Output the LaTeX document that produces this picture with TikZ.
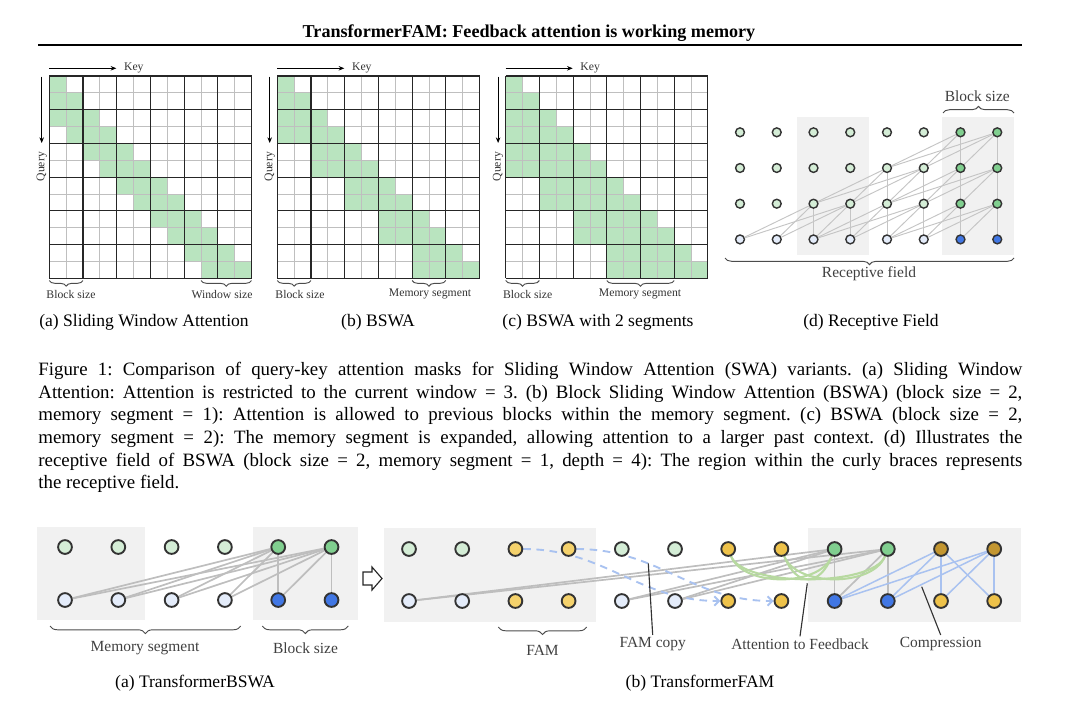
\documentclass[tikz,border=0pt]{standalone}
\usepackage{fontspec}
\setmainfont{Liberation Serif}
\usepackage{tikz}
\usetikzlibrary{positioning,decorations.pathreplacing,backgrounds,arrows.meta}
\frenchspacing
\definecolor{maskgreen}{HTML}{B9E4BF}
\definecolor{lgreen}{HTML}{D4EDD6}
\definecolor{mgreen}{HTML}{80CF8F}
\definecolor{lblue}{HTML}{E4ECFA}
\definecolor{dblue}{HTML}{4177E4}
\definecolor{famyellow}{HTML}{F5D26C}
\definecolor{famdeep}{HTML}{EEC24A}
\definecolor{famgold}{HTML}{C39630}
\definecolor{boxgray}{HTML}{F1F1F1}
\definecolor{edgegray}{HTML}{BEBEBE}
\definecolor{fbgreen}{HTML}{B7D9A0}
\definecolor{cmpblue}{HTML}{A9C2F0}
\def\cs{16.85}
\newcommand{\drawmask}[4]{
  % #1,#2: top left corner, #3: first green column of row \r, #4: name
  \begin{scope}[shift={(#1,#2)}]
    \foreach \r in {0,...,11} {
      \pgfmathtruncatemacro{\lo}{#3}
      \fill[maskgreen] (\lo*\cs, \r*\cs) rectangle ({(\r+1)*\cs}, {(\r+1)*\cs});
    }
    \foreach \i in {1,3,...,11} {
      \draw[black!25, line width=0.4pt] (\i*\cs, 0) -- (\i*\cs, 12*\cs);
      \draw[black!25, line width=0.4pt] (0, \i*\cs) -- (12*\cs, \i*\cs);
    }
    \foreach \i in {0,2,...,12} {
      \draw[black!85, line width=0.6pt] (\i*\cs, 0) -- (\i*\cs, 12*\cs);
      \draw[black!85, line width=0.6pt] (0, \i*\cs) -- (12*\cs, \i*\cs);
    }
    \draw[-{Stealth[length=3pt, width=2.4pt]}, line width=0.4pt] (0,-7.7) -- (67,-7.7);
    \node[gridlbl] (#4-key) at (84.5,-7.7) {Key};
    \draw[-{Stealth[length=3pt, width=2.4pt]}, line width=0.4pt] (-7.6,0.7) -- (-7.6,67);
    \node[gridlbl, rotate=90] (#4-query) at (-7.6,90.7) {Query};
  \end{scope}
}

\begin{document}
\begin{tikzpicture}[x=0.53pt, y=-0.53pt,
    tokdot/.style={circle, draw=black!80, line width=1pt, minimum size=7.3pt, inner sep=0pt},
    rfdot/.style={circle, draw=black!80, line width=0.75pt, minimum size=4.7pt, inner sep=0pt},
    memedge/.style={edgegray, line width=0.9pt},
    rfedge/.style={edgegray!90, line width=0.5pt},
    fbarc/.style={fbgreen, line width=1.1pt},
    cmpedge/.style={cmpblue, line width=0.8pt},
    famcopy/.style={cmpblue, line width=1pt, dash pattern=on 4pt off 3pt, -{Straight Barb[length=2.5pt, width=5pt]}},
    pointer/.style={black!80, line width=0.6pt},
    brc/.style={decorate, decoration={brace, amplitude=#1}, black!70, line width=0.5pt},
    brc/.default=3pt,
    brcdown/.style={decorate, decoration={brace, mirror, amplitude=#1}, black!70, line width=0.5pt},
    brcdown/.default=3pt,
    gridlbl/.style={font=\fontsize{6.2}{7}\selectfont, text=black!80, inner sep=1pt},
    rflbl/.style={font=\fontsize{8.2}{9}\selectfont, text=black!75, inner sep=1pt},
    sublbl/.style={font=\fontsize{9.3}{11}\selectfont, inner sep=1pt}]
  \useasboundingbox (0,0) rectangle (1080,703);

  % title
  \node[font=\bfseries\fontsize{9.6}{11}\selectfont] (title) at (529,33) {TransformerFAM: Feedback attention is working memory};
  \draw[line width=0.8pt] (38,45) -- (1022,45);

  % attention masks
  \drawmask{49.3}{76}{max(0,\r-2)}{swa}
  \drawmask{277.3}{76}{max(0,2*(floor(\r/2)-1))}{bswa}
  \drawmask{505.7}{76}{max(0,2*(floor(\r/2)-2))}{seg}

  \draw[brcdown] (49.3,280.5) -- (83,280.5);
  \node[gridlbl] (swa-blk) at (71,294.3) {Block size};
  \draw[brcdown] (201,280.5) -- (251.5,280.5);
  \node[gridlbl] (swa-win) at (222,294.3) {Window size};
  \draw[brcdown] (277.3,280.5) -- (311,280.5);
  \node[gridlbl] (bswa-blk) at (300,294.3) {Block size};
  \draw[brcdown] (412.1,280.5) -- (445.8,280.5);
  \node[gridlbl] (bswa-mem) at (430,294.3) {Memory segment};
  \draw[brcdown] (505.7,280.5) -- (539.4,280.5);
  \node[gridlbl] (seg-blk) at (527.7,294.3) {Block size};
  \draw[brcdown] (606.8,280.5) -- (674.2,280.5);
  \node[gridlbl] (seg-mem) at (640,294.3) {Memory segment};

  % receptive field
  \begin{scope}[on background layer]
    \fill[boxgray] (796.7,116.7) rectangle (869,255);
    \fill[boxgray] (941.7,116.7) rectangle (1014.3,255);
    \fill[boxgray] (37.3,527.3) rectangle (145,620);
    \fill[boxgray] (252.7,527.3) rectangle (358.3,620);
    \fill[boxgray] (384,528.3) rectangle (596,621.7);
    \fill[boxgray] (808.3,528.3) rectangle (1020.7,621.7);
  \end{scope}
  \foreach \r in {0,...,3}
    \foreach \j in {0,...,7} {
      \ifnum\r<3 \def\fillc{lgreen}\ifnum\j>5 \def\fillc{mgreen}\fi
      \else \def\fillc{lblue}\ifnum\j>5 \def\fillc{dblue}\fi\fi
      \node[rfdot, fill=\fillc] (rf-\r-\j) at ({740+36.75*\j}, {132.3+35.7*\r}) {};
    }
  \begin{scope}[on background layer]
    \foreach \r in {0,1,2} {
      \pgfmathtruncatemacro{\first}{6-2*\r}
      \pgfmathtruncatemacro{\nr}{\r+1}
      \foreach \j in {\first,...,7} {
        \pgfmathtruncatemacro{\lo}{max(0,2*floor(\j/2)-2)}
        \foreach \k in {\lo,...,\j}
          \draw[rfedge] (rf-\r-\j) -- (rf-\nr-\k);
      }
    }
  \end{scope}
  \draw[brc=3.5pt] (943,113) -- (1014,113);
  \node[rflbl] (rf-blk) at (977.3,96.7) {Block size};
  \draw[brcdown=3.5pt] (725,258) -- (1014,258);
  \node[rflbl] (rf-field) at (869,273.3) {Receptive field};

  \node[sublbl] (cap-a) at (144,322) {(a) Sliding Window Attention};
  \node[sublbl] (cap-b) at (378,322) {(b) BSWA};
  \node[sublbl] (cap-c) at (598,322) {(c) BSWA with 2 segments};
  \node[sublbl] (cap-d) at (871,322) {(d) Receptive Field};

  % caption
  \node[anchor=north west, text width=521.5pt, align=justify, inner sep=0pt, font=\fontsize{10}{12}\selectfont] (caption) at (38,362) {Figure 1: Comparison of query-key attention masks for Sliding Window Attention (SWA) variants. (a) Sliding Window\linebreak Attention: Attention is restricted to the current window = 3. (b) Block Sliding Window Attention (BSWA) (block size = 2,\linebreak memory segment = 1): Attention is allowed to previous blocks within the memory segment. (c) BSWA (block size = 2,\linebreak memory segment = 2): The memory segment is expanded, allowing attention to a larger past context. (d) Illustrates the\linebreak receptive field of BSWA (block size = 2, memory segment = 1, depth = 4): The region within the curly braces represents\linebreak the receptive field.};

  % TransformerBSWA
  \foreach \j in {0,...,5} {
    \ifnum\j>3 \def\tc{mgreen}\def\bc{dblue}\else\def\tc{lgreen}\def\bc{lblue}\fi
    \node[tokdot, fill=\tc] (bt-\j) at ({65+53.3*\j},547) {};
    \node[tokdot, fill=\bc] (bb-\j) at ({65+53.3*\j},600) {};
  }
  \begin{scope}[on background layer]
    \foreach \q in {4,5}
      \foreach \k in {0,...,\q}
        \draw[memedge] (bt-\q) -- (bb-\k);
  \end{scope}
  \draw[brcdown=4pt] (50,626) -- (240.7,626);
  \node[rflbl] (bswa-mem-lbl) at (145,648) {Memory segment};
  \draw[brcdown=4pt] (262.3,626) -- (348.3,626);
  \node[rflbl] (bswa-blk-lbl) at (305.5,648) {Block size};
  \node[sublbl] (cap-bswa) at (195,683) {(a) TransformerBSWA};

  \draw[line width=0.6pt, black!85, fill=white] (363,572) -- (372,572) -- (372,567) -- (382,578.5) -- (372,590) -- (372,585) -- (363,585) -- cycle;

  % TransformerFAM
  \foreach \j/\tc/\bc in {0/lgreen/lblue, 1/lgreen/lblue, 2/famyellow/famyellow, 3/famyellow/famyellow,
      4/lgreen/lblue, 5/lgreen/lblue, 6/famdeep/famdeep, 7/famdeep/famdeep,
      8/mgreen/dblue, 9/mgreen/dblue, 10/famgold/famdeep, 11/famgold/famdeep} {
    \node[tokdot, fill=\tc] (ft-\j) at ({409+53.2*\j},549) {};
    \node[tokdot, fill=\bc] (fb-\j) at ({409+53.2*\j},601) {};
  }
  \begin{scope}[on background layer]
    \foreach \q in {8,9}
      \foreach \k in {0,4,5,8}
        \draw[memedge] (ft-\q) -- (fb-\k);
    \draw[memedge] (ft-9) -- (fb-9);
    \draw[famcopy] (ft-2) .. controls +(90,0) and +(-90,0) .. (fb-6);
    \draw[famcopy] (ft-3) .. controls +(90,0) and +(-90,0) .. (fb-7);
    \foreach \p in {6,7}
      \foreach \q in {8,9}
        \draw[fbarc] (ft-\p) .. controls +(15,38) and +(-15,38) .. (ft-\q);
    \foreach \q in {10,11}
      \foreach \k in {8,...,11}
        \draw[cmpedge] (ft-\q) -- (fb-\k);
  \end{scope}
  \draw[brcdown=4pt] (498.3,627) -- (586.7,627);
  \node[rflbl] (fam-lbl) at (542.5,650) {FAM};
  \node[rflbl] (famcopy-lbl) at (652.7,644) {FAM copy};
  \coordinate (famcopy-tip) at (648.3,563.3);
  \draw[pointer] (famcopy-lbl.north) -- (famcopy-tip);
  \node[rflbl] (fb-lbl) at (800,644) {Attention to Feedback};
  \coordinate (fb-tip) at (807.3,583.3);
  \draw[pointer] (fb-lbl.north) -- (fb-tip);
  \node[rflbl] (cmp-lbl) at (940.7,644) {Compression};
  \coordinate (cmp-tip) at (921.7,586.7);
  \draw[pointer] (cmp-lbl.north) -- (cmp-tip);
  \node[sublbl] (cap-fam) at (700,683) {(b) TransformerFAM};
\end{tikzpicture}
\end{document}
